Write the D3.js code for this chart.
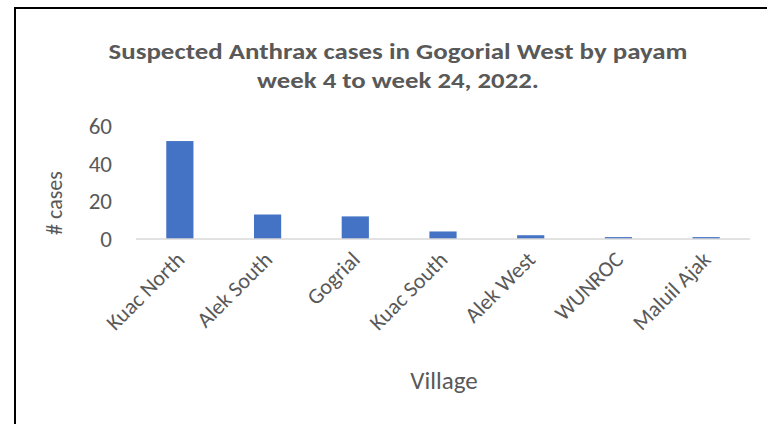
<!DOCTYPE html>
<html>
<head>
<meta charset="utf-8">
<script src="https://cdn.jsdelivr.net/npm/d3@7"></script>
<style>
  body { margin: 0; background: #fff; }
  text { font-family: Carlito, "Open Sans", sans-serif; fill: #595959; }
</style>
</head>
<body>
<svg id="chart"></svg>
<script>
// data
var villages = ["Kuac North", "Alek  South", "Gogrial", "Kuac South", "Alek  West", "WUNROC", "Maluil Ajak"];
var cases = [52, 13, 12, 4, 2, 1, 1];
var yTicks = [0, 20, 40, 60];
var titleLines = ["Suspected Anthrax cases in Gogorial West by payam", "week 4 to week 24, 2022."];
var titleWidths = [579, 282];

var width = 767, height = 424;

var svg = d3.select("#chart")
    .attr("width", width)
    .attr("height", height);

// chart border
svg.append("rect")
    .attr("x", 15)
    .attr("y", 8)
    .attr("width", width)
    .attr("height", height)
    .style("fill", "none")
    .style("stroke", "#000")
    .style("stroke-width", 2);

// scales
var x = d3.scaleBand()
    .domain(villages)
    .range([136, 750])
    .paddingInner(0.69)
    .paddingOuter(0.345);

var y = d3.scaleLinear()
    .domain([0, 60])
    .range([239, 126]);

// title
svg.selectAll(".title")
    .data(titleLines)
  .enter().append("text")
    .attr("class", "title")
    .attr("x", 398)
    .attr("y", function(d, i) { return 59 + i * 29; })
    .attr("text-anchor", "middle")
    .attr("textLength", function(d, i) { return titleWidths[i]; })
    .attr("lengthAdjust", "spacingAndGlyphs")
    .style("font-size", "23px")
    .style("font-weight", "bold")
    .text(function(d) { return d; });

// bars
svg.selectAll(".bar")
    .data(villages)
  .enter().append("rect")
    .attr("class", "bar")
    .attr("x", function(d) { return x(d); })
    .attr("width", x.bandwidth())
    .attr("y", function(d, i) { return y(cases[i]); })
    .attr("height", function(d, i) { return y(0) - y(cases[i]); })
    .style("fill", "#4472c4");

// x axis
var xAxis = svg.append("g")
    .attr("transform", "translate(0," + y(0) + ")")
    .call(d3.axisBottom(x).tickSize(0).tickPadding(0));
xAxis.select(".domain")
    .style("stroke", "#d9d9d9")
    .style("stroke-width", 1.5)
    .attr("d", "M136,0H750");
xAxis.selectAll("text")
    .attr("x", 0)
    .attr("y", 0)
    .attr("dy", 0)
    .style("font-size", "22px")
    .style("text-anchor", "end")
    .attr("transform", "translate(6,22) rotate(-45)");

// y axis
var yAxis = svg.append("g")
    .attr("transform", "translate(112,0)")
    .call(d3.axisLeft(y).tickValues(yTicks).tickSize(0).tickPadding(0));
yAxis.select(".domain").remove();
yAxis.selectAll("text")
    .style("font-size", "23px");

// axis titles
svg.append("text")
    .attr("transform", "translate(62,203) rotate(-90)")
    .attr("text-anchor", "middle")
    .style("font-size", "22px")
    .text("# cases");

svg.append("text")
    .attr("x", 444)
    .attr("y", 389)
    .attr("text-anchor", "middle")
    .style("font-size", "25px")
    .text("Village");
</script>
</body>
</html>
